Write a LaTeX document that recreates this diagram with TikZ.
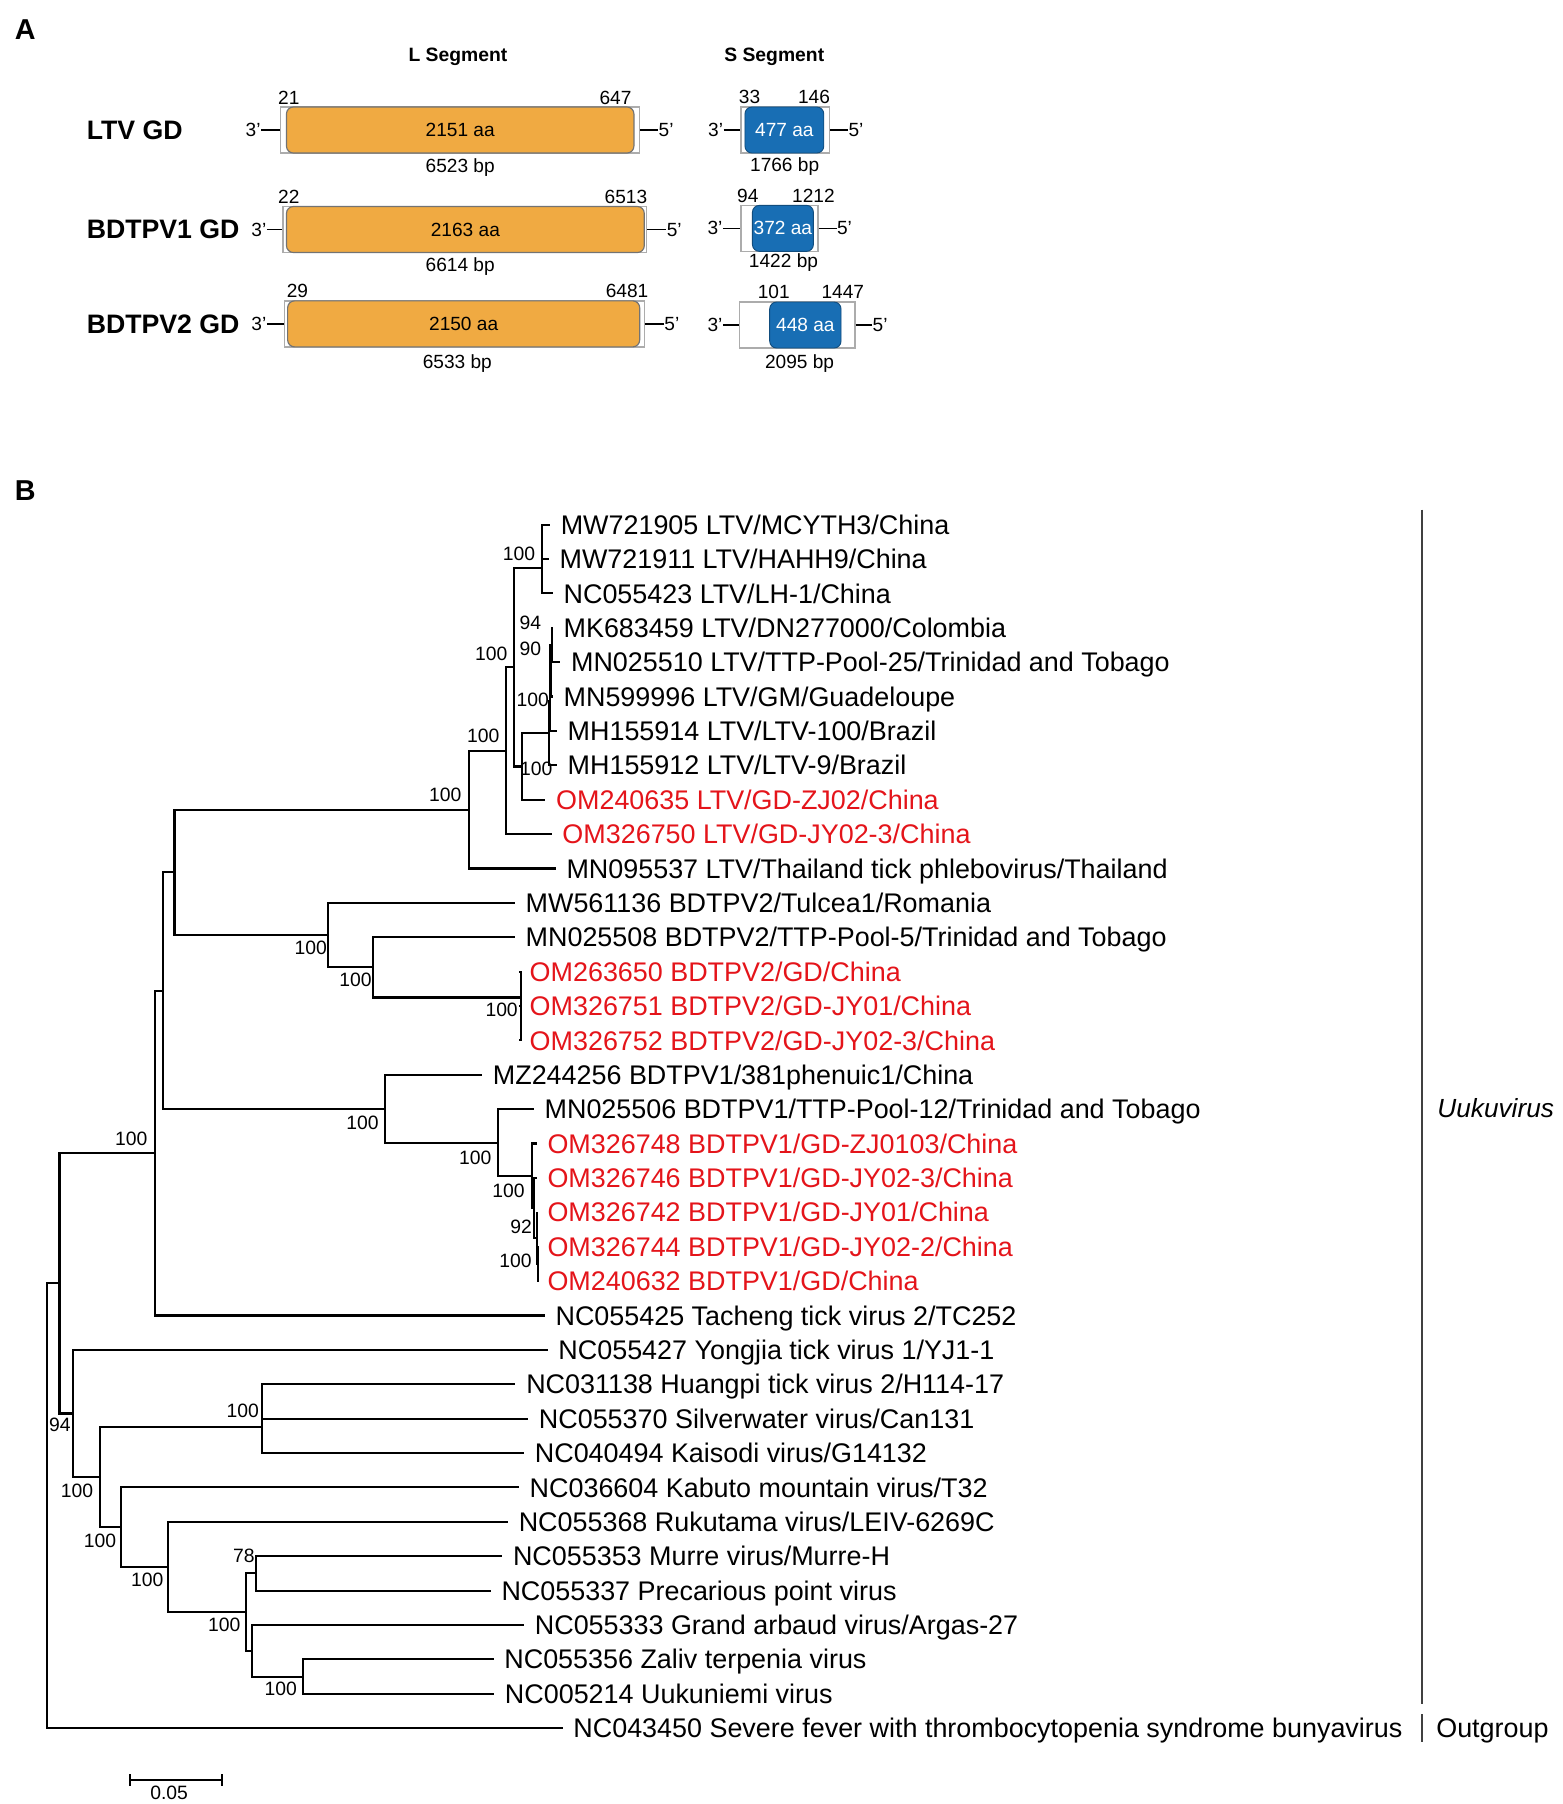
\documentclass[tikz,border=0pt]{standalone}
\usepackage{fontspec}
\setmainfont{Liberation Sans}
\usetikzlibrary{positioning}
\definecolor{gdred}{RGB}{228,20,26}
\definecolor{lseg}{RGB}{240,170,66}
\definecolor{sseg}{RGB}{24,110,180}
\newcommand{\thr}{3\char"27}
\newcommand{\fiv}{5\char"27}

\begin{document}
\begin{tikzpicture}[x=0.5pt, y=-0.5pt,
  leaf/.style={anchor=west, inner sep=0pt, font=\fontsize{11.7}{14}\selectfont, text height=8.4pt, text depth=0pt},
  gd/.style={leaf, text=gdred},
  boot/.style={inner sep=0pt, font=\fontsize{8.4}{10}\selectfont},
  small/.style={inner sep=0pt, font=\fontsize{8.3}{10}\selectfont},
  rowname/.style={anchor=west, inner sep=0pt, font=\bfseries\fontsize{11.6}{13}\selectfont},
  panel/.style={inner sep=0pt, font=\bfseries\fontsize{12.5}{14}\selectfont},
  shell/.style={draw=gray!65, line width=0.6pt, fill=white, inner sep=0pt, minimum height=20pt},
  lbox/.style={fill=lseg, draw=black!55, line width=0.5pt, rounded corners=3pt, inner sep=0pt, minimum height=20pt, font=\fontsize{8.3}{10}\selectfont},
  sbox/.style={fill=sseg, draw=sseg!70!black, line width=0.4pt, rounded corners=3pt, inner sep=0pt, minimum height=20pt, text=white, font=\fontsize{8.3}{10}\selectfont},
  tail/.style={line width=0.6pt},
  tree/.style={line width=0.9pt},
  tip/.style={tree, shorten >=4.5pt}]

\useasboundingbox (0,0) rectangle (1358,1568);

% ---------- panel A ----------
\node[panel] (pA) at (22,26) {A};
\node[small, font=\bfseries\fontsize{8.4}{10}\selectfont] (hL) at (398,49) {L Segment};
\node[small, font=\bfseries\fontsize{8.4}{10}\selectfont] (hS) at (673,49) {S Segment};

% LTV GD
\node[rowname] (rLTV) at (75,113) {LTV GD};
\node[shell, minimum width=156pt] (Lltv) at (400,113) {};
\node[lbox, minimum width=151pt] (Lltvc) at (400,113) {2151 aa};
\node[small] (Lltv3) at (220,113) {\thr};
\node[small] (Lltv5) at (579,113) {\fiv};
\draw[tail] (Lltv3.east) -- (Lltv.west);
\draw[tail] (Lltv.east) -- (Lltv5.west);
\node[small] (Lltva) at (251,85) {21};
\node[small] (Lltvb) at (535,85) {647};
\node[small] (Lltvbp) at (400,146) {6523 bp};

\node[shell, minimum width=38.5pt] (Sltv) at (682.5,113) {};
\node[sbox, minimum width=34.25pt] (Sltvc) at (681.75,113) {477 aa};
\node[small] (Sltv3) at (622,113) {\thr};
\node[small] (Sltv5) at (744,113) {\fiv};
\draw[tail] (Sltv3.east) -- (Sltv.west);
\draw[tail] (Sltv.east) -- (Sltv5.west);
\node[small] (Sltva) at (651.5,84) {33};
\node[small] (Sltvb) at (707.5,84) {146};
\node[small] (Sltvbp) at (682,145) {1766 bp};

% BDTPV1 GD
\node[rowname] (rV1) at (75,199.5) {BDTPV1 GD};
\node[shell, minimum width=158pt] (Lv1) at (404,199.5) {};
\node[lbox, minimum width=155.5pt] (Lv1c) at (404.5,199.5) {2163 aa};
\node[small] (Lv13) at (225,199.5) {\thr};
\node[small] (Lv15) at (586,199.5) {\fiv};
\draw[tail] (Lv13.east) -- (Lv1.west);
\draw[tail] (Lv1.east) -- (Lv15.west);
\node[small] (Lv1a) at (251,171) {22};
\node[small] (Lv1b) at (544,171) {6513};
\node[small] (Lv1bp) at (400,232) {6614 bp};

\node[shell, minimum width=33.5pt] (Sv1) at (677.5,198.5) {};
\node[sbox, minimum width=26.5pt] (Sv1c) at (680.5,198.5) {372 aa};
\node[small] (Sv13) at (621.5,198.5) {\thr};
\node[small] (Sv15) at (734,198.5) {\fiv};
\draw[tail] (Sv13.east) -- (Sv1.west);
\draw[tail] (Sv1.east) -- (Sv15.west);
\node[small] (Sv1a) at (650,170) {94};
\node[small] (Sv1b) at (707,170) {1212};
\node[small] (Sv1bp) at (681,228) {1422 bp};

% BDTPV2 GD
\node[rowname] (rV2) at (75,282) {BDTPV2 GD};
\node[shell, minimum width=156.25pt] (Lv2) at (403.75,281.5) {};
\node[lbox, minimum width=153pt] (Lv2c) at (403,281.5) {2150 aa};
\node[small] (Lv23) at (225,281.5) {\thr};
\node[small] (Lv25) at (584,281.5) {\fiv};
\draw[tail] (Lv23.east) -- (Lv2.west);
\draw[tail] (Lv2.east) -- (Lv25.west);
\node[small] (Lv2a) at (258.5,253) {29};
\node[small] (Lv2b) at (545,253) {6481};
\node[small] (Lv2bp) at (397.5,316) {6533 bp};

\node[shell, minimum width=50pt] (Sv2) at (693,282.5) {};
\node[sbox, minimum width=31pt] (Sv2c) at (700,282.5) {448 aa};
\node[small] (Sv23) at (621.5,282.5) {\thr};
\node[small] (Sv25) at (765,282.5) {\fiv};
\draw[tail] (Sv23.east) -- (Sv2.west);
\draw[tail] (Sv2.east) -- (Sv25.west);
\node[small] (Sv2a) at (672.5,254) {101};
\node[small] (Sv2b) at (732.5,254) {1447};
\node[small] (Sv2bp) at (695,316) {2095 bp};

% ---------- panel B ----------
\node[panel] (pB) at (22,426) {B};

% leaves
\node[leaf] (l01) at (487,456.0) {MW721905 LTV/MCYTH3/China};
\node[leaf] (l02) at (486,485.9) {MW721911 LTV/HAHH9/China};
\node[leaf] (l03) at (489.5,515.8) {NC055423 LTV/LH-1/China};
\node[leaf] (l04) at (489.5,545.7) {MK683459 LTV/DN277000/Colombia};
\node[leaf] (l05) at (496,575.5) {MN025510 LTV/TTP-Pool-25/Trinidad and Tobago};
\node[leaf] (l06) at (489.5,605.4) {MN599996 LTV/GM/Guadeloupe};
\node[leaf] (l07) at (493,635.3) {MH155914 LTV/LTV-100/Brazil};
\node[leaf] (l08) at (493,665.2) {MH155912 LTV/LTV-9/Brazil};
\node[gd]   (l09) at (483,695.1) {OM240635 LTV/GD-ZJ02/China};
\node[gd]   (l10) at (488.5,725.0) {OM326750 LTV/GD-JY02-3/China};
\node[leaf] (l11) at (492,754.9) {MN095537 LTV/Thailand tick phlebovirus/Thailand};
\node[leaf] (l12) at (456.5,784.7) {MW561136 BDTPV2/Tulcea1/Romania};
\node[leaf] (l13) at (456.5,814.6) {MN025508 BDTPV2/TTP-Pool-5/Trinidad and Tobago};
\node[gd]   (l14) at (460,844.5) {OM263650 BDTPV2/GD/China};
\node[gd]   (l15) at (460,874.4) {OM326751 BDTPV2/GD-JY01/China};
\node[gd]   (l16) at (460,904.3) {OM326752 BDTPV2/GD-JY02-3/China};
\node[leaf] (l17) at (428,934.2) {MZ244256 BDTPV1/381phenuic1/China};
\node[leaf] (l18) at (473,964.1) {MN025506 BDTPV1/TTP-Pool-12/Trinidad and Tobago};
\node[gd]   (l19) at (475.5,993.9) {OM326748 BDTPV1/GD-ZJ0103/China};
\node[gd]   (l20) at (475.5,1023.8) {OM326746 BDTPV1/GD-JY02-3/China};
\node[gd]   (l21) at (475.5,1053.7) {OM326742 BDTPV1/GD-JY01/China};
\node[gd]   (l22) at (475.5,1083.6) {OM326744 BDTPV1/GD-JY02-2/China};
\node[gd]   (l23) at (475.5,1113.5) {OM240632 BDTPV1/GD/China};
\node[leaf] (l24) at (482.5,1143.4) {NC055425 Tacheng tick virus 2/TC252};
\node[leaf] (l25) at (485,1173.3) {NC055427 Yongjia tick virus 1/YJ1-1};
\node[leaf] (l26) at (457,1203.1) {NC031138 Huangpi tick virus 2/H114-17};
\node[leaf] (l27) at (468,1233.0) {NC055370 Silverwater virus/Can131};
\node[leaf] (l28) at (464.5,1262.9) {NC040494 Kaisodi virus/G14132};
\node[leaf] (l29) at (460,1292.8) {NC036604 Kabuto mountain virus/T32};
\node[leaf] (l30) at (450.5,1322.7) {NC055368 Rukutama virus/LEIV-6269C};
\node[leaf] (l31) at (445.5,1352.6) {NC055353 Murre virus/Murre-H};
\node[leaf] (l32) at (435.5,1382.5) {NC055337 Precarious point virus};
\node[leaf] (l33) at (464.5,1412.3) {NC055333 Grand arbaud virus/Argas-27};
\node[leaf] (l34) at (438,1442.2) {NC055356 Zaliv terpenia virus};
\node[leaf] (l35) at (438.5,1472.1) {NC005214 Uukuniemi virus};
\node[leaf] (l36) at (498,1502.0) {NC043450 Severe fever with thrombocytopenia syndrome bunyavirus};

% internal nodes
\coordinate (nAa)  at (471,470.9);
\coordinate (nA)   at (471,493.4);
\coordinate (nD3)  at (479.7,560.6);
\coordinate (nD2)  at (478.5,583.0);
\coordinate (nD1)  at (477.7,609.2);
\coordinate (nD)   at (476.8,637.2);
\coordinate (nE)   at (453.6,666.2);
\coordinate (nB)   at (446.4,579.8);
\coordinate (nC)   at (439.5,652.4);
\coordinate (nLTV) at (407.3,703.7);
\coordinate (nV2c) at (452.7,889.4);
\coordinate (nV2b) at (452.7,867.0);
\coordinate (nV2a) at (324,840.8);
\coordinate (nV2)  at (285,812.8);
\coordinate (nUp)  at (151.7,758.2);
\coordinate (nN4)  at (468,1098.6);
\coordinate (nN3)  at (466.5,1076.2);
\coordinate (nN2)  at (464.5,1050.0);
\coordinate (nN1)  at (462.3,1022.0);
\coordinate (nV1b) at (432.5,993.1);
\coordinate (nV1)  at (335,963.7);
\coordinate (nUp2) at (141.7,861.0);
\coordinate (nUk1) at (135,1002.2);
\coordinate (nHa)  at (227.5,1218.1);
\coordinate (nH)   at (227.5,1240.5);
\coordinate (nM)   at (222.6,1367.5);
\coordinate (nZ)   at (263,1457.2);
\coordinate (nG)   at (219,1434.8);
\coordinate (nMG)  at (213.6,1401.2);
\coordinate (nR)   at (146.4,1362.0);
\coordinate (nK)   at (105.5,1327.4);
\coordinate (nHK)  at (87,1284.0);
\coordinate (nY)   at (63.8,1228.6);
\coordinate (nUk)  at (51.7,1115.4);
\coordinate (root) at (40.6,1308.7);

% branches between internal nodes
\foreach \p/\c in {nA/nAa, nD2/nD3, nD1/nD2, nD/nD1, nE/nD, nB/nA, nB/nE, nC/nB, nLTV/nC,
                   nUp/nLTV, nUp/nV2, nV2/nV2a, nV2a/nV2b, nV2b/nV2c, nUp2/nUp, nUp2/nV1,
                   nV1/nV1b, nV1b/nN1, nN1/nN2, nN2/nN3, nN3/nN4, nUk1/nUp2, nUk/nUk1, nUk/nY,
                   nY/nHK, nHK/nH, nHK/nK, nH/nHa, nK/nR, nR/nMG, nMG/nM, nMG/nG, nG/nZ, root/nUk}
  \draw[tree] (\p) |- (\c);

% branches to leaves
\foreach \p/\c in {nAa/l01, nAa/l02, nA/l03, nD3/l04, nD3/l05, nD2/l06, nD1/l07, nD/l08, nE/l09,
                   nC/l10, nLTV/l11, nV2/l12, nV2a/l13, nV2b/l14, nV2c/l15, nV2c/l16, nV1/l17,
                   nV1b/l18, nN1/l19, nN2/l20, nN3/l21, nN4/l22, nN4/l23, nUk1/l24, nY/l25,
                   nHa/l26, nHa/l27, nH/l28, nK/l29, nR/l30, nM/l31, nM/l32, nG/l33, nZ/l34,
                   nZ/l35, root/l36}
  \draw[tip] (\p) |- (\c.west);

% bootstrap values
\foreach \bx/\by/\bv [count=\i] in {451/481/100, 461/541/94, 461/564/90, 427/568/100, 463/608/100,
                   420/640/100, 466/668/100, 387/691/100, 270/824/100, 309/852/100, 436/878/100,
                   315/976/100, 413/1006/100, 442/1035/100, 453/1066/92, 448/1096/100,
                   114/990/100, 52/1238/94, 211/1226/100, 67/1296/100, 87/1339/100,
                   128/1373/100, 212/1352/78, 195/1412/100, 244/1468/100}
  \node[boot] (bs\i) at (\bx,\by) {\bv};

% clade bars
\coordinate (uk0) at (1236,443);
\coordinate (uk1) at (1236,1481);
\draw[black!75, line width=0.5pt] (uk0) -- (uk1);
\node[leaf, anchor=center, font=\itshape\fontsize{11.4}{14}\selectfont] (uk) at (1300,963) {Uukuvirus};
\coordinate (og0) at (1236,1490);
\coordinate (og1) at (1236,1514);
\draw[black!75, line width=0.5pt] (og0) -- (og1);
\node[leaf] (og) at (1248,1502) {Outgroup};

% scale bar
\coordinate (sb0) at (113,1547);
\coordinate (sb1) at (193,1547);
\draw[line width=0.6pt] (sb0) -- (sb1);
\draw[line width=0.6pt] ([yshift=2.5pt]sb0) -- ([yshift=-2.5pt]sb0);
\draw[line width=0.6pt] ([yshift=2.5pt]sb1) -- ([yshift=-2.5pt]sb1);
\node[boot] (sbl) at (147,1558) {0.05};
\end{tikzpicture}
\end{document}
